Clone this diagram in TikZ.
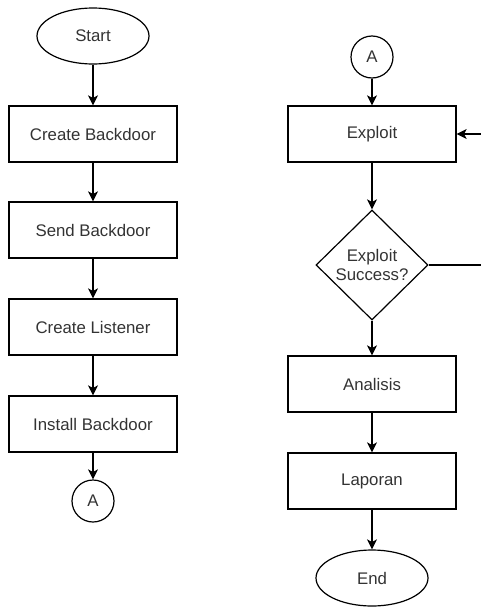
\documentclass[tikz,border=0pt]{standalone}
\usepackage{fontspec}
\setmainfont{Liberation Sans}
\usetikzlibrary{arrows.meta}
\usetikzlibrary{shapes.geometric}
\tikzset{proc/.style = {draw, rectangle, minimum width = 168pt, minimum height = 56pt, inner sep = 0}}
\tikzset{term/.style = {draw, ellipse, minimum width = 112pt, minimum height = 56pt, inner sep = 0}}
\tikzset{conn/.style = {draw, circle, minimum size = 42pt, inner sep = 0}}
\tikzset{test/.style = {draw, diamond, minimum width = 112pt, minimum height = 110pt,
                        inner sep = 0, align = center}}
\tikzset{flow/.style = {-{Stealth[length = 10pt, width = 10pt, inset = 2.5pt]}}}

\begin{document}
\begin{tikzpicture}[x = 1pt, y = -1pt, line width = 1.2pt,
                    every node/.style = {font = \fontsize{16.8}{19.5}\selectfont, text = black!80}]
      \useasboundingbox (0, 0) rectangle (481, 608);

      \node (start) at (93, 36) [term] {Start};
      \node (create) at (93, 134) [proc] {Create Backdoor};
      \node (send) at (93, 230) [proc] {Send Backdoor};
      \node (listen) at (93, 327) [proc] {Create Listener};
      \node (install) at (93, 424) [proc] {Install Backdoor};
      \node (outA) at (93, 501) [conn] {A};

      \node (inA) at (372, 57) [conn] {A};
      \node (exploit) at (372, 134) [proc] {Exploit};
      \node (success) at (372, 265) [test] {Exploit\\Success?};
      \node (analisis) at (372, 384) [proc] {Analisis};
      \node (laporan) at (372, 481) [proc] {Laporan};
      \node (end) at (372, 578) [term] {End};
      \coordinate (back) at (486, 265);

      \draw [flow] (start) -- (create);
      \draw [flow] (create) -- (send);
      \draw [flow] (send) -- (listen);
      \draw [flow] (listen) -- (install);
      \draw [flow] (install) -- (outA);

      \draw [flow] (inA) -- (exploit);
      \draw [flow] (exploit) -- (success);
      \draw [flow] (success.east) -- (back) |- (exploit.east);
      \draw [flow] (success) -- (analisis);
      \draw [flow] (analisis) -- (laporan);
      \draw [flow] (laporan) -- (end);
\end{tikzpicture}
\end{document}
